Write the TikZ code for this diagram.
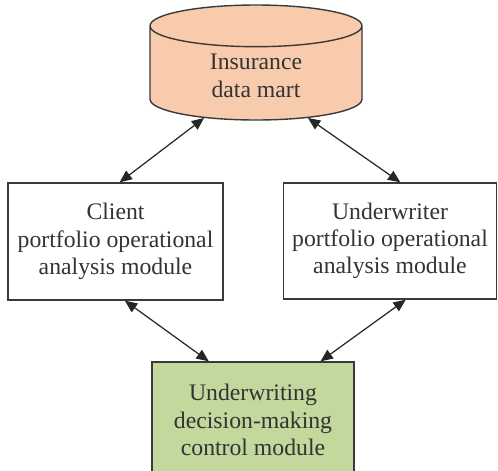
\documentclass[tikz,border=0pt]{standalone}
\usepackage{fontspec}
\setmainfont{Liberation Serif}
\usetikzlibrary{shapes.geometric}
\usetikzlibrary{arrows.meta}
\usetikzlibrary{calc}

\definecolor{martfill}{HTML}{F8CBAD}
\definecolor{ctrlfill}{HTML}{C2D89C}
\definecolor{edgegray}{HTML}{3A3A3A}
\definecolor{textgray}{HTML}{333333}

\begin{document}
\begin{tikzpicture}[
      module/.style={draw=edgegray, line width=0.8pt, align=center, text=textgray,
        font=\fontsize{13.5}{15.5}\selectfont, inner sep=2pt},
      store/.style={module, cylinder, shape border rotate=90, aspect=0.42, fill=martfill},
      link/.style={{Triangle[length=7pt,width=6pt]}-{Triangle[length=7pt,width=6pt]},
        draw=black!85, line width=0.7pt}
    ]
    % frame
    \useasboundingbox (0,0) rectangle (9.96,-9.4);
    \clip (0,0) rectangle (9.96,-9.4);

    % data mart
    \node [store, anchor=shape center, minimum width=4.24cm, minimum height=2.3cm] (mart) at (5.12, -1.25)
        {Insurance\\ data mart};

    % analysis modules
    \node [module, minimum width=4.3cm, minimum height=2.34cm] (client) at (2.31, -4.83)
        {Client\\portfolio operational\\analysis module};
    \node [module, minimum width=4.26cm, minimum height=2.32cm] (uw) at (7.80, -4.82)
        {Underwriter\\portfolio operational\\analysis module};

    % control module
    \node [module, fill=ctrlfill, minimum width=4.04cm, minimum height=2.32cm] (ctrl) at (5.06, -8.40)
        {Underwriting\\decision-making\\control module};

    % links
    \draw[link] (client.86) -- (mart.219);
    \draw[link] (uw.80) -- (mart.321);
    \draw[link] (client.279) -- (ctrl.127);
    \draw[link] (uw.285) -- (ctrl.41);

\end{tikzpicture}
\end{document}
